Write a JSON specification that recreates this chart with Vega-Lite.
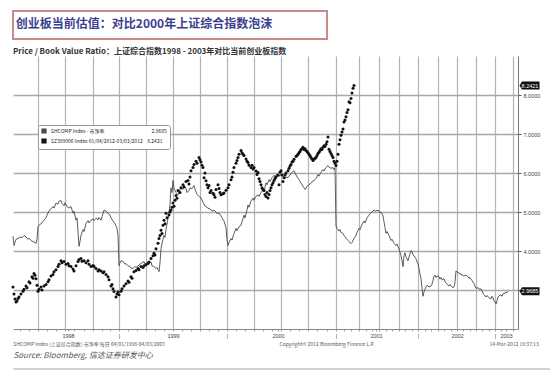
{
  "$schema": "https://vega.github.io/schema/vega-lite/v6.json",
  "autosize": {"type": "pad"},
  "padding": {"left": 6, "top": 10, "right": 0, "bottom": 0},
  "background": "white",
  "columns": 1,
  "align": "none",
  "spacing": 8,
  "config": {"font": "Noto Sans CJK SC", "view": {"stroke": null}},
  "datasets": {
    "header": [{"title": "创业板当前估值：对比2000年上证综合指数泡沫"}],
    "lastvals": [{"t": 505, "v": 8.2421, "label": "8.2421"}, {"t": 505, "v": 2.9685, "label": "2.9685"}],
    "shcomp": [
      {"t":0,"v":4.38},{"t":1,"v":4.14},{"t":2,"v":4.22},{"t":3,"v":4.30},{"t":5,"v":4.32},{"t":7,"v":4.36},{"t":9,"v":4.34},{"t":11,"v":4.40},{"t":13,"v":4.36},{"t":15,"v":4.30},{"t":16,"v":4.33},{"t":18,"v":4.27},{"t":20,"v":4.24},{"t":22,"v":4.22},{"t":23,"v":4.19},{"t":24,"v":4.30},{"t":25,"v":4.63},{"t":27,"v":4.68},{"t":29,"v":4.72},{"t":31,"v":4.79},{"t":33,"v":4.85},{"t":34,"v":4.92},{"t":36,"v":5.03},{"t":38,"v":5.08},{"t":40,"v":5.14},{"t":41,"v":5.10},{"t":43,"v":5.23},{"t":45,"v":5.20},{"t":46,"v":5.28},{"t":48,"v":5.29},{"t":49,"v":5.22},{"t":51,"v":5.16},{"t":52,"v":5.24},{"t":54,"v":5.14},{"t":56,"v":5.10},{"t":58,"v":5.14},{"t":60,"v":4.97},{"t":61,"v":5.02},{"t":63,"v":4.79},{"t":64,"v":4.85},{"t":65,"v":4.50},{"t":66,"v":4.12},{"t":67,"v":4.25},{"t":68,"v":4.40},{"t":70,"v":4.55},{"t":71,"v":4.50},{"t":73,"v":4.71},{"t":75,"v":4.78},{"t":76,"v":4.72},{"t":78,"v":4.79},{"t":80,"v":4.82},{"t":81,"v":4.78},{"t":83,"v":4.84},{"t":85,"v":4.80},{"t":86,"v":4.86},{"t":88,"v":4.79},{"t":89,"v":4.88},{"t":91,"v":5.05},{"t":93,"v":5.02},{"t":95,"v":4.97},{"t":97,"v":4.92},{"t":98,"v":4.85},{"t":100,"v":4.77},{"t":102,"v":4.70},{"t":104,"v":4.58},{"t":105,"v":4.40},{"t":106,"v":3.62},{"t":107,"v":3.70},{"t":108,"v":3.75},{"t":110,"v":3.73},{"t":112,"v":3.66},{"t":113,"v":3.68},{"t":115,"v":3.62},{"t":117,"v":3.60},{"t":118,"v":3.56},{"t":120,"v":3.55},{"t":122,"v":3.60},{"t":123,"v":3.58},{"t":125,"v":3.62},{"t":127,"v":3.66},{"t":129,"v":3.70},{"t":131,"v":3.73},{"t":132,"v":3.66},{"t":134,"v":3.70},{"t":136,"v":3.68},{"t":138,"v":3.72},{"t":139,"v":3.62},{"t":141,"v":3.60},{"t":143,"v":3.55},{"t":144,"v":3.58},{"t":146,"v":3.47},{"t":147,"v":3.70},{"t":148,"v":4.06},{"t":149,"v":4.20},{"t":150,"v":4.30},{"t":151,"v":4.40},{"t":152,"v":4.35},{"t":153,"v":4.55},{"t":155,"v":4.84},{"t":156,"v":5.00},{"t":157,"v":5.20},{"t":158,"v":5.62},{"t":159,"v":5.50},{"t":160,"v":5.81},{"t":161,"v":5.60},{"t":163,"v":5.50},{"t":165,"v":5.44},{"t":166,"v":5.52},{"t":168,"v":5.62},{"t":170,"v":5.58},{"t":171,"v":5.68},{"t":173,"v":5.60},{"t":174,"v":5.50},{"t":176,"v":5.55},{"t":177,"v":5.62},{"t":179,"v":5.60},{"t":181,"v":5.68},{"t":182,"v":5.58},{"t":184,"v":5.45},{"t":186,"v":5.40},{"t":188,"v":5.36},{"t":190,"v":5.25},{"t":192,"v":5.15},{"t":194,"v":5.12},{"t":195,"v":5.10},{"t":197,"v":5.08},{"t":199,"v":5.02},{"t":201,"v":5.05},{"t":203,"v":5.00},{"t":204,"v":4.96},{"t":206,"v":4.97},{"t":208,"v":4.90},{"t":209,"v":4.85},{"t":211,"v":4.77},{"t":213,"v":4.60},{"t":214,"v":4.30},{"t":215,"v":4.14},{"t":216,"v":4.22},{"t":218,"v":4.32},{"t":219,"v":4.28},{"t":221,"v":4.45},{"t":223,"v":4.58},{"t":224,"v":4.52},{"t":226,"v":4.62},{"t":228,"v":4.66},{"t":229,"v":4.75},{"t":231,"v":4.92},{"t":232,"v":4.85},{"t":234,"v":5.05},{"t":235,"v":5.18},{"t":236,"v":5.12},{"t":238,"v":5.28},{"t":240,"v":5.36},{"t":241,"v":5.30},{"t":243,"v":5.40},{"t":245,"v":5.44},{"t":246,"v":5.40},{"t":248,"v":5.50},{"t":250,"v":5.57},{"t":251,"v":5.52},{"t":253,"v":5.75},{"t":254,"v":5.70},{"t":256,"v":5.83},{"t":257,"v":5.78},{"t":259,"v":5.88},{"t":261,"v":5.94},{"t":262,"v":5.90},{"t":264,"v":5.98},{"t":266,"v":5.92},{"t":268,"v":5.96},{"t":270,"v":5.92},{"t":272,"v":5.86},{"t":273,"v":5.90},{"t":275,"v":5.88},{"t":277,"v":5.95},{"t":279,"v":6.02},{"t":281,"v":6.06},{"t":282,"v":6.00},{"t":284,"v":5.90},{"t":286,"v":5.83},{"t":287,"v":5.78},{"t":289,"v":5.70},{"t":291,"v":5.62},{"t":292,"v":5.58},{"t":293,"v":5.60},{"t":294,"v":5.66},{"t":296,"v":5.70},{"t":298,"v":5.74},{"t":299,"v":5.78},{"t":301,"v":5.81},{"t":303,"v":5.86},{"t":305,"v":5.96},{"t":306,"v":5.92},{"t":308,"v":6.02},{"t":310,"v":6.09},{"t":311,"v":6.05},{"t":313,"v":6.14},{"t":315,"v":6.19},{"t":316,"v":6.15},{"t":318,"v":6.12},{"t":320,"v":6.14},{"t":321,"v":6.08},{"t":322,"v":6.14},{"t":323,"v":4.64},{"t":324,"v":4.58},{"t":326,"v":4.51},{"t":327,"v":4.55},{"t":328,"v":4.48},{"t":330,"v":4.45},{"t":331,"v":4.40},{"t":333,"v":4.33},{"t":335,"v":4.27},{"t":336,"v":4.24},{"t":338,"v":4.19},{"t":339,"v":4.22},{"t":341,"v":4.32},{"t":343,"v":4.40},{"t":344,"v":4.48},{"t":346,"v":4.58},{"t":347,"v":4.55},{"t":349,"v":4.68},{"t":351,"v":4.77},{"t":352,"v":4.72},{"t":354,"v":4.85},{"t":356,"v":4.92},{"t":357,"v":4.96},{"t":359,"v":5.00},{"t":361,"v":5.05},{"t":362,"v":5.02},{"t":364,"v":5.04},{"t":366,"v":5.03},{"t":367,"v":4.98},{"t":368,"v":5.00},{"t":370,"v":4.90},{"t":371,"v":4.75},{"t":372,"v":4.60},{"t":373,"v":4.45},{"t":374,"v":4.50},{"t":376,"v":4.40},{"t":378,"v":4.27},{"t":379,"v":4.30},{"t":381,"v":4.20},{"t":383,"v":4.14},{"t":384,"v":4.18},{"t":386,"v":4.05},{"t":388,"v":3.88},{"t":389,"v":3.75},{"t":390,"v":3.60},{"t":391,"v":3.88},{"t":392,"v":3.95},{"t":393,"v":3.85},{"t":395,"v":3.75},{"t":396,"v":3.85},{"t":398,"v":4.01},{"t":399,"v":3.98},{"t":400,"v":3.90},{"t":401,"v":3.88},{"t":403,"v":3.80},{"t":404,"v":3.72},{"t":405,"v":3.68},{"t":406,"v":3.55},{"t":407,"v":3.40},{"t":408,"v":3.29},{"t":409,"v":3.05},{"t":410,"v":2.84},{"t":411,"v":2.95},{"t":412,"v":3.02},{"t":413,"v":3.08},{"t":414,"v":3.12},{"t":416,"v":3.08},{"t":418,"v":3.10},{"t":419,"v":3.15},{"t":420,"v":3.25},{"t":421,"v":3.36},{"t":422,"v":3.38},{"t":423,"v":3.32},{"t":424,"v":3.36},{"t":426,"v":3.34},{"t":427,"v":3.28},{"t":428,"v":3.32},{"t":429,"v":3.26},{"t":431,"v":3.29},{"t":432,"v":3.22},{"t":433,"v":3.18},{"t":434,"v":3.15},{"t":436,"v":3.10},{"t":437,"v":3.14},{"t":438,"v":3.10},{"t":440,"v":3.06},{"t":441,"v":3.08},{"t":442,"v":3.20},{"t":443,"v":3.49},{"t":444,"v":3.46},{"t":446,"v":3.44},{"t":447,"v":3.40},{"t":448,"v":3.42},{"t":449,"v":3.38},{"t":451,"v":3.36},{"t":453,"v":3.38},{"t":455,"v":3.34},{"t":456,"v":3.30},{"t":457,"v":3.32},{"t":459,"v":3.24},{"t":461,"v":3.16},{"t":462,"v":3.10},{"t":463,"v":3.04},{"t":465,"v":3.06},{"t":466,"v":3.02},{"t":468,"v":3.03},{"t":469,"v":2.98},{"t":470,"v":2.92},{"t":471,"v":2.88},{"t":473,"v":2.82},{"t":474,"v":2.86},{"t":476,"v":2.80},{"t":478,"v":2.77},{"t":479,"v":2.84},{"t":480,"v":2.80},{"t":481,"v":2.72},{"t":482,"v":2.70},{"t":483,"v":2.64},{"t":484,"v":2.72},{"t":485,"v":2.82},{"t":486,"v":2.85},{"t":488,"v":2.88},{"t":489,"v":2.84},{"t":490,"v":2.90},{"t":492,"v":2.92},{"t":493,"v":2.95},{"t":494,"v":2.93},{"t":495,"v":2.9685}
    ],
    "sz": [
      {"t":0,"v":3.08},{"t":1,"v":2.90},{"t":2,"v":2.77},{"t":3,"v":2.69},{"t":4,"v":2.72},{"t":5,"v":2.78},{"t":6,"v":2.82},{"t":8,"v":2.90},{"t":10,"v":2.97},{"t":11,"v":3.02},{"t":13,"v":3.10},{"t":14,"v":3.06},{"t":16,"v":3.21},{"t":17,"v":3.18},{"t":19,"v":3.34},{"t":20,"v":3.30},{"t":21,"v":3.42},{"t":22,"v":3.38},{"t":23,"v":3.29},{"t":24,"v":3.12},{"t":25,"v":2.97},{"t":26,"v":3.02},{"t":28,"v":3.08},{"t":29,"v":3.00},{"t":31,"v":3.10},{"t":33,"v":3.14},{"t":35,"v":3.21},{"t":36,"v":3.26},{"t":38,"v":3.36},{"t":40,"v":3.40},{"t":41,"v":3.47},{"t":43,"v":3.52},{"t":45,"v":3.60},{"t":46,"v":3.66},{"t":48,"v":3.75},{"t":49,"v":3.70},{"t":51,"v":3.73},{"t":53,"v":3.66},{"t":55,"v":3.68},{"t":56,"v":3.62},{"t":58,"v":3.60},{"t":60,"v":3.54},{"t":61,"v":3.49},{"t":63,"v":3.62},{"t":65,"v":3.73},{"t":66,"v":3.78},{"t":68,"v":3.81},{"t":69,"v":3.74},{"t":71,"v":3.75},{"t":73,"v":3.70},{"t":75,"v":3.75},{"t":76,"v":3.66},{"t":78,"v":3.60},{"t":80,"v":3.63},{"t":81,"v":3.60},{"t":83,"v":3.55},{"t":85,"v":3.49},{"t":86,"v":3.52},{"t":88,"v":3.49},{"t":90,"v":3.44},{"t":91,"v":3.47},{"t":93,"v":3.40},{"t":95,"v":3.34},{"t":96,"v":3.26},{"t":98,"v":3.10},{"t":99,"v":3.14},{"t":100,"v":3.03},{"t":101,"v":2.96},{"t":103,"v":2.82},{"t":104,"v":2.90},{"t":105,"v":2.95},{"t":106,"v":2.88},{"t":108,"v":2.97},{"t":109,"v":3.03},{"t":111,"v":3.10},{"t":113,"v":3.16},{"t":115,"v":3.23},{"t":116,"v":3.20},{"t":118,"v":3.34},{"t":119,"v":3.30},{"t":121,"v":3.47},{"t":123,"v":3.50},{"t":125,"v":3.55},{"t":126,"v":3.52},{"t":128,"v":3.60},{"t":130,"v":3.58},{"t":131,"v":3.62},{"t":133,"v":3.65},{"t":135,"v":3.68},{"t":136,"v":3.72},{"t":138,"v":3.81},{"t":140,"v":3.88},{"t":141,"v":3.94},{"t":142,"v":3.90},{"t":143,"v":4.06},{"t":145,"v":4.20},{"t":146,"v":4.32},{"t":147,"v":4.40},{"t":148,"v":4.53},{"t":149,"v":4.45},{"t":150,"v":4.66},{"t":151,"v":4.79},{"t":152,"v":4.70},{"t":153,"v":4.97},{"t":154,"v":4.85},{"t":156,"v":4.92},{"t":157,"v":5.00},{"t":158,"v":5.05},{"t":159,"v":5.12},{"t":160,"v":5.23},{"t":161,"v":5.15},{"t":162,"v":5.30},{"t":163,"v":5.42},{"t":164,"v":5.35},{"t":165,"v":5.55},{"t":167,"v":5.50},{"t":168,"v":5.62},{"t":170,"v":5.70},{"t":171,"v":5.64},{"t":173,"v":5.78},{"t":175,"v":5.81},{"t":176,"v":5.72},{"t":177,"v":5.90},{"t":178,"v":6.06},{"t":180,"v":6.14},{"t":181,"v":6.22},{"t":183,"v":6.30},{"t":184,"v":6.25},{"t":186,"v":6.40},{"t":187,"v":6.34},{"t":188,"v":6.28},{"t":189,"v":6.20},{"t":190,"v":6.14},{"t":191,"v":5.88},{"t":192,"v":6.00},{"t":193,"v":5.80},{"t":194,"v":5.70},{"t":195,"v":5.62},{"t":196,"v":5.68},{"t":197,"v":5.50},{"t":198,"v":5.55},{"t":200,"v":5.48},{"t":201,"v":5.44},{"t":202,"v":5.38},{"t":203,"v":5.58},{"t":205,"v":5.70},{"t":206,"v":5.60},{"t":207,"v":5.50},{"t":208,"v":5.44},{"t":210,"v":5.47},{"t":211,"v":5.49},{"t":213,"v":5.56},{"t":215,"v":5.62},{"t":216,"v":5.70},{"t":218,"v":5.83},{"t":219,"v":5.90},{"t":220,"v":6.02},{"t":221,"v":6.14},{"t":223,"v":6.25},{"t":224,"v":6.32},{"t":225,"v":6.40},{"t":226,"v":6.48},{"t":228,"v":6.58},{"t":229,"v":6.52},{"t":230,"v":6.48},{"t":231,"v":6.45},{"t":233,"v":6.36},{"t":234,"v":6.30},{"t":235,"v":6.27},{"t":236,"v":6.20},{"t":238,"v":6.14},{"t":239,"v":6.20},{"t":240,"v":6.10},{"t":241,"v":6.14},{"t":243,"v":6.05},{"t":244,"v":5.96},{"t":245,"v":6.01},{"t":246,"v":5.85},{"t":247,"v":5.78},{"t":248,"v":5.70},{"t":249,"v":5.62},{"t":250,"v":5.58},{"t":251,"v":5.55},{"t":252,"v":5.45},{"t":253,"v":5.40},{"t":254,"v":5.50},{"t":255,"v":5.36},{"t":256,"v":5.45},{"t":257,"v":5.55},{"t":258,"v":5.62},{"t":259,"v":5.70},{"t":260,"v":5.75},{"t":261,"v":5.81},{"t":262,"v":5.86},{"t":263,"v":5.90},{"t":265,"v":5.94},{"t":266,"v":5.70},{"t":267,"v":6.02},{"t":268,"v":6.06},{"t":269,"v":5.95},{"t":270,"v":5.78},{"t":271,"v":5.88},{"t":272,"v":5.95},{"t":273,"v":6.00},{"t":275,"v":6.06},{"t":276,"v":6.12},{"t":277,"v":6.18},{"t":278,"v":6.22},{"t":279,"v":6.28},{"t":280,"v":6.30},{"t":281,"v":6.35},{"t":283,"v":6.42},{"t":284,"v":6.45},{"t":285,"v":6.48},{"t":286,"v":6.52},{"t":287,"v":6.55},{"t":288,"v":6.60},{"t":289,"v":6.62},{"t":290,"v":6.66},{"t":291,"v":6.60},{"t":292,"v":6.62},{"t":293,"v":6.58},{"t":294,"v":6.55},{"t":295,"v":6.52},{"t":296,"v":6.48},{"t":297,"v":6.44},{"t":298,"v":6.40},{"t":299,"v":6.36},{"t":300,"v":6.32},{"t":301,"v":6.35},{"t":302,"v":6.38},{"t":303,"v":6.40},{"t":304,"v":6.45},{"t":305,"v":6.50},{"t":306,"v":6.53},{"t":307,"v":6.58},{"t":308,"v":6.62},{"t":309,"v":6.60},{"t":310,"v":6.66},{"t":311,"v":6.70},{"t":312,"v":6.68},{"t":313,"v":6.74},{"t":314,"v":6.80},{"t":315,"v":6.92},{"t":316,"v":6.61},{"t":317,"v":6.55},{"t":318,"v":6.50},{"t":319,"v":6.45},{"t":320,"v":6.40},{"t":321,"v":6.30},{"t":322,"v":6.25},{"t":323,"v":6.19},{"t":324,"v":6.30},{"t":325,"v":6.48},{"t":326,"v":6.74},{"t":327,"v":6.85},{"t":328,"v":6.97},{"t":329,"v":7.05},{"t":330,"v":7.13},{"t":331,"v":7.31},{"t":332,"v":7.36},{"t":333,"v":7.44},{"t":334,"v":7.55},{"t":335,"v":7.62},{"t":336,"v":7.83},{"t":337,"v":7.80},{"t":338,"v":7.91},{"t":339,"v":8.05},{"t":340,"v":8.17},{"t":341,"v":8.2421}
    ]
  },
  "concat": [
    {
      "width": 314,
      "height": 28,
      "view": {"stroke": "#c98c8c", "strokeWidth": 2, "fill": "white"},
      "data": {"name": "header"},
      "mark": {"type": "text", "align": "center", "baseline": "middle", "dx": -26, "dy": -1, "font": "Noto Sans CJK SC", "fontSize": 12, "fontWeight": "bold", "color": "#3b3f8e"},
      "encoding": {"text": {"field": "title", "type": "nominal"}}
    },
    {
      "width": 505,
      "height": 273,
      "title": {"text": "Price / Book Value Ratio：上证综合指数1998 - 2003年对比当前创业板指数", "anchor": "start", "frame": "group", "fontSize": 8, "fontWeight": "bold", "color": "#333333", "font": "Noto Sans CJK SC", "offset": 0},
      "resolve": {"axis": {"x": "independent", "y": "independent"}},
      "layer": [
        {
          "data": {"name": "shcomp"},
          "mark": {"type": "line", "strokeWidth": 0.9, "interpolate": "linear"},
          "encoding": {
            "x": {"field": "t", "type": "quantitative", "scale": {"domain": [0, 505], "nice": false, "zero": false},
              "axis": {"orient": "bottom", "title": null,
                "values": [7,16,25,34,43,52,55,61,71,80,89,97,106,115,124,133,142,151,160,169,178,187,196,205,214,223,232,241,250,259,265,268,277,286,295,304,314,323,331,338,346,353,359,363,366,373,379,386,392,399,405,412,418,425,431,438,444,450,457,463,469,476,482,488,493,500],
                "labelExpr": "datum.value == 55 ? '1998' : datum.value == 160 ? '1999' : datum.value == 265 ? '2000' : datum.value == 363 ? '2001' : datum.value == 444 ? '2002' : datum.value == 493 ? '2003' : indexof([106,214,323,405,482], datum.value) >= 0 ? '|' : ''",
                "grid": true,
                "gridColor": "#b4b4b4",
                "gridWidth": 1.2,
                "gridOpacity": {"condition": {"test": "indexof([25,52,80,106,133,160,187,214,241,268,295,323,346,366,386,405,425,444,463,482,500], datum.value) >= 0", "value": 1}, "value": 0},
                "tickSize": 2, "tickColor": "#777777", "tickWidth": 0.7,
                "domainColor": "#888888", "domainWidth": 1,
                "labelFont": "Liberation Sans", "labelFontSize": 5.5, "labelColor": "#444444", "labelPadding": 2,
                "labelFlush": false, "labelOverlap": false, "labelBound": false}},
            "y": {"field": "v", "type": "quantitative", "scale": {"domain": [2, 9], "nice": false, "zero": false},
              "axis": {"orient": "left", "title": null, "values": [3,4,5,6,7,8],
                "labels": false, "domain": false, "ticks": true, "tickSize": 6, "tickColor": "white",
                "grid": true, "gridColor": "#a8a8a8", "gridWidth": 1.3, "gridOpacity": 1}},
            "color": {"datum": "SHCOMP Index - 市净率", "type": "nominal",
              "scale": {"domain": ["SHCOMP Index - 市净率", "SZ399006 Index 01/04/2012-03/03/2012"], "range": ["#4a4a4a", "#111111"]},
              "legend": {"orient": "none", "legendX": 25, "legendY": 114, "title": null, "direction": "vertical",
                "strokeColor": "#999999", "fillColor": "white", "cornerRadius": 2, "padding": 3,
                "labelFont": "Noto Sans CJK SC", "labelFontSize": 5, "labelColor": "#222222", "labelLimit": 200,
                "symbolType": "square", "symbolSize": 14, "symbolFillColor": "#111111", "symbolStrokeColor": "#111111", "rowPadding": 0,
                "labelExpr": "datum.label == 'SHCOMP Index - 市净率' ? 'SHCOMP Index - 市净率\u00a0\u00a0\u00a0\u00a0\u00a0\u00a0\u00a0\u00a0\u00a0\u00a0\u00a0\u00a0\u00a0\u00a0\u00a0\u00a0\u00a0\u00a0\u00a0\u00a0\u00a0\u00a0\u00a0\u00a0\u00a0\u00a0\u00a0\u00a0\u00a0\u00a0\u00a0\u00a0\u00a0\u00a0\u00a0\u00a0\u00a0\u00a0\u00a0\u00a0\u00a0\u00a02.9685' : datum.label + '\u00a0\u00a0\u00a0\u00a08.2421'"}}
          }
        },
        {
          "data": {"name": "sz"},
          "mark": {"type": "point", "filled": true, "shape": "circle", "size": 9, "opacity": 1},
          "encoding": {
            "x": {"field": "t", "type": "quantitative", "axis": null},
            "y": {"field": "v", "type": "quantitative", "axis": null},
            "color": {"datum": "SZ399006 Index 01/04/2012-03/03/2012", "type": "nominal"}
          }
        },
        {
          "data": {"name": "lastvals"},
          "mark": {"type": "point", "filled": true, "shape": "M0.15,0L0.4,-0.4L2.15,-0.4L2.15,0.4L0.4,0.4Z", "size": 400, "fill": "#111111", "strokeWidth": 0, "opacity": 1},
          "encoding": {
            "x": {"field": "t", "type": "quantitative",
              "axis": {"orient": "bottom", "offset": 11, "values": [0, 266, 476],
                "labelExpr": "datum.value == 0 ? 'SHCOMP Index (上证综合指数) 市净率  每日  04/01/1998-04/03/2003' : datum.value == 266 ? 'Copyright© 2012 Bloomberg Finance L.P.' : '14-Mar-2012 19:37:13'",
                "labelAlign": "left", "labelFont": "Noto Sans CJK SC", "labelFontSize": 5, "labelColor": "#555555", "labelPadding": 1,
                "ticks": false, "tickSize": 0, "domain": false, "grid": false, "labelFlush": false, "labelOverlap": false, "labelBound": false,
                "title": "Source: Bloomberg, 信达证券研发中心", "titleAnchor": "start", "titleFont": "Noto Sans CJK SC", "titleFontStyle": "italic", "titleFontWeight": "normal", "titleFontSize": 8, "titleColor": "#555555", "titlePadding": 5}},
            "y": {"field": "v", "type": "quantitative",
              "axis": {"orient": "right", "title": null,
                "values": [3,4,5,6,7,8],
                "labelExpr": "datum.value != 3 ? format(datum.value, '.4f') : ''",
                "grid": false,
                "tickSize": 3, "tickColor": "#555555", "tickWidth": 1,
                "domain": true, "domainColor": "#777777", "domainWidth": 1,
                "labelFont": "Liberation Sans", "labelFontSize": 5.5, "labelColor": "#444444", "labelPadding": 2,
                "labelFlush": false, "labelOverlap": false}}
          }
        },
        {
          "data": {"name": "lastvals"},
          "mark": {"type": "text", "align": "center", "baseline": "middle", "dx": 12, "font": "Liberation Sans", "fontSize": 5.5, "color": "white"},
          "encoding": {
            "x": {"field": "t", "type": "quantitative", "axis": null},
            "y": {"field": "v", "type": "quantitative", "axis": null},
            "text": {"field": "label", "type": "nominal"}
          }
        }
      ]
    },
    {
      "width": 544,
      "height": 1,
      "view": {"stroke": "#d2d2d2", "strokeWidth": 1},
      "data": {"values": [{}]},
      "mark": {"type": "rule"},
      "encoding": {}
    }
  ]
}
